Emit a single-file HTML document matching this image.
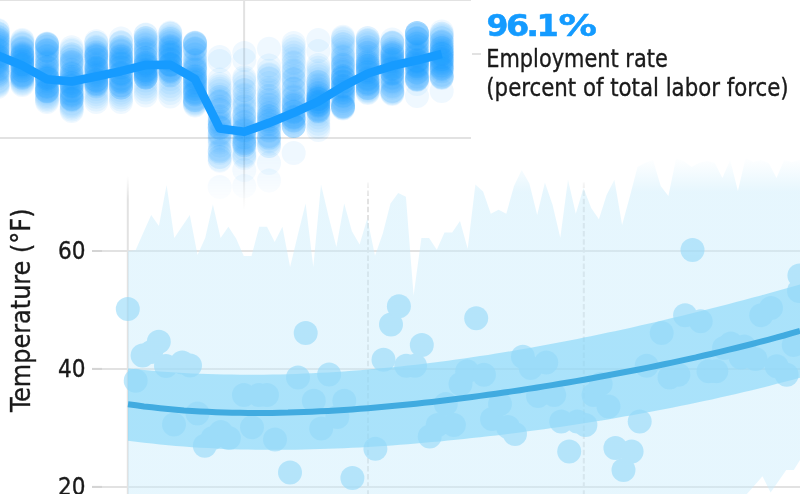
<!DOCTYPE html>
<html><head><meta charset="utf-8"><style>
html,body{margin:0;padding:0;background:#fff;width:800px;height:494px;overflow:hidden}
</style></head><body>
<svg width="800" height="494" viewBox="0 0 800 494" style="position:absolute;left:0;top:0">
<defs>
<linearGradient id="afade" gradientUnits="userSpaceOnUse" x1="0" y1="157" x2="0" y2="192"><stop offset="0" stop-color="#c8ecfc" stop-opacity="0"/><stop offset="1" stop-color="#c8ecfc" stop-opacity="1"/></linearGradient>
<linearGradient id="lfade" gradientUnits="userSpaceOnUse" x1="0" y1="176" x2="0" y2="199"><stop offset="0" stop-color="#fff" stop-opacity="0"/><stop offset="1" stop-color="#fff" stop-opacity="1"/></linearGradient>
<mask id="lm" maskUnits="userSpaceOnUse" x="0" y="0" width="800" height="494"><rect x="0" y="0" width="800" height="494" fill="url(#lfade)"/></mask>
<linearGradient id="tfade" gradientUnits="userSpaceOnUse" x1="0" y1="160" x2="0" y2="210"><stop offset="0" stop-color="#fff" stop-opacity="1"/><stop offset="1" stop-color="#fff" stop-opacity="0"/></linearGradient>
<mask id="tm" maskUnits="userSpaceOnUse" x="-20" y="-20" width="840" height="534"><rect x="-20" y="-20" width="840" height="534" fill="url(#tfade)"/></mask>
</defs>
<line x1="92" y1="251.0" x2="800" y2="251.0" stroke="#e2e2e2" stroke-width="2"/>
<line x1="92" y1="251.0" x2="102" y2="251.0" stroke="#d4d4d4" stroke-width="2"/>
<line x1="92" y1="368.9" x2="800" y2="368.9" stroke="#e2e2e2" stroke-width="2"/>
<line x1="92" y1="368.9" x2="102" y2="368.9" stroke="#d4d4d4" stroke-width="2"/>
<line x1="92" y1="486.9" x2="800" y2="486.9" stroke="#e2e2e2" stroke-width="2"/>
<line x1="92" y1="486.9" x2="102" y2="486.9" stroke="#d4d4d4" stroke-width="2"/>
<g mask="url(#lm)">
<line x1="127.8" y1="150" x2="127.8" y2="494" stroke="#e2e2e2" stroke-width="2"/>
<line x1="368" y1="182.5" x2="368" y2="494" stroke="#e2e2e2" stroke-width="2" stroke-dasharray="5.5 2.6"/>
<line x1="583.8" y1="182.5" x2="583.8" y2="494" stroke="#e2e2e2" stroke-width="2" stroke-dasharray="5.5 2.6"/>
</g>
<polygon points="128,505 128,251 135.7,250 143.4,232.5 151.2,215 158.9,226 166.6,185 174.3,238 182,226.5 189.8,215 197.5,255 205.2,238 212.9,204.5 220.6,238 228.4,226.8 236.1,238.5 243.8,256 251.5,256 259.2,226.8 267,226.8 274.7,242 282.4,226.8 290.1,267 297.8,235 305.6,203.4 313.3,267 321,184.5 328.7,217 336.4,247 344.2,203.4 351.9,231.3 359.6,244.6 367.3,218.4 375,255.8 382.8,233.5 390.5,203.4 398.2,193 405.9,196.8 413.6,295.6 421.4,238 429.1,238 436.8,249.7 444.5,232.5 452.2,232.5 460,221 467.7,248.7 475.4,184.5 483.1,191.5 490.8,213.7 498.6,209.7 506.3,213.7 514,186 521.7,170 529.4,183.4 537.2,215 544.9,182.5 552.6,205 560.3,237.7 568,179.7 575.8,213.7 583.5,188 591.2,208 598.9,219.3 606.6,195 614.4,179.7 622.1,225 629.8,196.7 637.5,167 645.2,162.7 653,160 660.7,186 668.4,196 676.1,158.4 683.8,161 691.6,167 699.3,162.7 707,161 714.7,162.7 722.4,178 730.2,160 737.9,191 745.6,158 753.3,162 761,160 768.8,163 776.5,178 784.2,160 791.9,162 799.6,160 807.4,160 800,460 793.75,470 786.25,470 770.6,492.5 762.5,476.25 746.9,494 740,505" fill="url(#afade)" fill-opacity="0.45"/>
<polygon points="128,368.4 136,369.3 144,370 152,370.7 160,371.4 168,372 176,372.5 184,373 192,373.4 200,373.7 208,374 216,374.3 224,374.5 232,374.6 240,374.7 248,374.7 256,374.7 264,374.7 272,374.5 280,374.4 288,374.2 296,373.9 304,373.6 312,373.2 320,372.8 328,372.4 336,371.9 344,371.4 352,370.8 360,370.2 368,369.5 376,368.8 384,368 392,367.3 400,366.4 408,365.6 416,364.7 424,363.7 432,362.7 440,361.7 448,360.7 456,359.6 464,358.5 472,357.3 480,356.1 488,354.9 496,353.6 504,352.3 512,351 520,349.6 528,348.2 536,346.8 544,345.3 552,343.8 560,342.3 568,340.8 576,339.2 584,337.6 592,336 600,334.3 608,332.6 616,330.9 624,329.2 632,327.4 640,325.6 648,323.8 656,321.9 664,320 672,318.1 680,316.2 688,314.3 696,312.3 704,310.3 712,308.3 720,306.2 728,304.2 736,302.1 744,299.9 752,297.8 760,295.7 768,293.5 776,291.3 784,289 792,286.8 800,284.5 800,377.7 792,379.9 784,382 776,384.1 768,386.2 760,388.2 752,390.2 744,392.1 736,394 728,395.8 720,397.6 712,399.4 704,401.1 696,402.8 688,404.5 680,406.1 672,407.7 664,409.3 656,410.8 648,412.3 640,413.8 632,415.2 624,416.6 616,418 608,419.4 600,420.7 592,422 584,423.3 576,424.5 568,425.7 560,426.9 552,428 544,429.2 536,430.3 528,431.3 520,432.4 512,433.4 504,434.4 496,435.4 488,436.3 480,437.2 472,438.1 464,439 456,439.8 448,440.6 440,441.4 432,442.1 424,442.8 416,443.5 408,444.2 400,444.8 392,445.4 384,445.9 376,446.4 368,446.9 360,447.4 352,447.8 344,448.2 336,448.5 328,448.8 320,449.1 312,449.3 304,449.5 296,449.7 288,449.8 280,449.8 272,449.8 264,449.8 256,449.7 248,449.6 240,449.4 232,449.2 224,448.9 216,448.5 208,448.1 200,447.7 192,447.2 184,446.6 176,445.9 168,445.2 160,444.5 152,443.6 144,442.7 136,441.7 128,440.7" fill="#82d5f9" fill-opacity="0.6"/>
<g fill="#94d9f9" opacity="0.6">
<circle cx="127.8" cy="309" r="12.0"/>
<circle cx="135.7" cy="380.7" r="12.0"/>
<circle cx="142.6" cy="355.5" r="12.0"/>
<circle cx="151.2" cy="352" r="12.0"/>
<circle cx="158.8" cy="341.7" r="12.0"/>
<circle cx="166" cy="365.9" r="12.0"/>
<circle cx="174" cy="424.5" r="12.0"/>
<circle cx="182.2" cy="362.4" r="12.0"/>
<circle cx="190" cy="365.5" r="12.0"/>
<circle cx="197.5" cy="413.5" r="12.0"/>
<circle cx="204.8" cy="445.8" r="12.0"/>
<circle cx="212.7" cy="438" r="12.0"/>
<circle cx="220.8" cy="432" r="12.0"/>
<circle cx="228.9" cy="438" r="12.0"/>
<circle cx="243.9" cy="395" r="12.0"/>
<circle cx="252" cy="427.3" r="12.0"/>
<circle cx="258.9" cy="395" r="12.0"/>
<circle cx="267" cy="395" r="12.0"/>
<circle cx="275" cy="439.4" r="12.0"/>
<circle cx="290" cy="472.4" r="12.0"/>
<circle cx="298" cy="377.5" r="12.0"/>
<circle cx="305.7" cy="333" r="12.0"/>
<circle cx="313.8" cy="400.8" r="12.0"/>
<circle cx="321.2" cy="428.5" r="12.0"/>
<circle cx="329.1" cy="374.6" r="12.0"/>
<circle cx="337.4" cy="417" r="12.0"/>
<circle cx="344.3" cy="400.8" r="12.0"/>
<circle cx="352.4" cy="478" r="12.0"/>
<circle cx="375.4" cy="448.8" r="12.0"/>
<circle cx="383.5" cy="359.7" r="12.0"/>
<circle cx="391" cy="324.5" r="12.0"/>
<circle cx="398.9" cy="306.3" r="12.0"/>
<circle cx="406.2" cy="365.7" r="12.0"/>
<circle cx="415.1" cy="365.7" r="12.0"/>
<circle cx="421.8" cy="345" r="12.0"/>
<circle cx="429.7" cy="436.6" r="12.0"/>
<circle cx="437.7" cy="425" r="12.0"/>
<circle cx="445.8" cy="404" r="12.0"/>
<circle cx="453.9" cy="425" r="12.0"/>
<circle cx="460.5" cy="384" r="12.0"/>
<circle cx="467.2" cy="371.3" r="12.0"/>
<circle cx="476.2" cy="318.3" r="12.0"/>
<circle cx="484" cy="374.7" r="12.0"/>
<circle cx="492" cy="419" r="12.0"/>
<circle cx="500" cy="404" r="12.0"/>
<circle cx="508" cy="427" r="12.0"/>
<circle cx="515" cy="434" r="12.0"/>
<circle cx="522.9" cy="356.8" r="12.0"/>
<circle cx="530.7" cy="368" r="12.0"/>
<circle cx="538" cy="396" r="12.0"/>
<circle cx="546.3" cy="362.4" r="12.0"/>
<circle cx="554.2" cy="395" r="12.0"/>
<circle cx="561.2" cy="421.6" r="12.0"/>
<circle cx="569.2" cy="451.6" r="12.0"/>
<circle cx="577.3" cy="421.6" r="12.0"/>
<circle cx="585.4" cy="425" r="12.0"/>
<circle cx="593.5" cy="395" r="12.0"/>
<circle cx="600.7" cy="384" r="12.0"/>
<circle cx="608.5" cy="406.6" r="12.0"/>
<circle cx="615.4" cy="448" r="12.0"/>
<circle cx="623.5" cy="470" r="12.0"/>
<circle cx="631.6" cy="451.6" r="12.0"/>
<circle cx="639.7" cy="421.6" r="12.0"/>
<circle cx="646.6" cy="365.7" r="12.0"/>
<circle cx="661.7" cy="333" r="12.0"/>
<circle cx="669.5" cy="377.5" r="12.0"/>
<circle cx="678.4" cy="374.7" r="12.0"/>
<circle cx="685.1" cy="315.2" r="12.0"/>
<circle cx="700.7" cy="321.2" r="12.0"/>
<circle cx="708.5" cy="371.3" r="12.0"/>
<circle cx="716.3" cy="371.3" r="12.0"/>
<circle cx="724" cy="348" r="12.0"/>
<circle cx="730.8" cy="343.5" r="12.0"/>
<circle cx="744.2" cy="346.4" r="12.0"/>
<circle cx="755.5" cy="359" r="12.0"/>
<circle cx="761.2" cy="315.2" r="12.0"/>
<circle cx="771" cy="308" r="12.0"/>
<circle cx="776.7" cy="366.2" r="12.0"/>
<circle cx="786.7" cy="374.7" r="12.0"/>
<circle cx="793.7" cy="345" r="12.0"/>
<circle cx="799" cy="291" r="12.0"/>
<circle cx="799.4" cy="275.6" r="12.0"/>
<circle cx="740.7" cy="357.6" r="12.0"/>
<circle cx="692.5" cy="250" r="12.0"/>
</g>
<polyline points="128,404.2 136,405.3 144,406.4 152,407.3 160,408.2 168,409 176,409.7 184,410.4 192,410.9 200,411.4 208,411.8 216,412.2 224,412.5 232,412.7 240,412.8 248,412.9 256,413 264,412.9 272,412.9 280,412.7 288,412.6 296,412.3 304,412 312,411.7 320,411.3 328,410.9 336,410.4 344,409.9 352,409.4 360,408.8 368,408.2 376,407.5 384,406.8 392,406.1 400,405.3 408,404.5 416,403.7 424,402.8 432,401.9 440,401 448,400 456,399 464,398 472,397 480,395.9 488,394.8 496,393.7 504,392.5 512,391.4 520,390.2 528,388.9 536,387.7 544,386.4 552,385.1 560,383.8 568,382.5 576,381.1 584,379.7 592,378.3 600,376.8 608,375.3 616,373.8 624,372.3 632,370.8 640,369.2 648,367.6 656,366 664,364.3 672,362.6 680,360.9 688,359.1 696,357.4 704,355.5 712,353.7 720,351.8 728,349.9 736,348 744,346 752,344 760,341.9 768,339.8 776,337.6 784,335.5 792,333.2 800,331" fill="none" stroke="#41abe0" stroke-width="6"/>
<line x1="0" y1="0" x2="471" y2="0" stroke="#e2e2e2" stroke-width="2"/>
<line x1="0" y1="138" x2="471" y2="138" stroke="#e2e2e2" stroke-width="2"/>
<g mask="url(#tm)">
<line x1="244.1" y1="0" x2="244.1" y2="215" stroke="#e2e2e2" stroke-width="2"/>
<g fill="#1c9bff" fill-opacity="0.07">
<circle cx="-2.3" cy="30" r="12"/>
<circle cx="-2.3" cy="30.7" r="12"/>
<circle cx="-2.3" cy="34.1" r="12"/>
<circle cx="-2.3" cy="33.2" r="12"/>
<circle cx="-2.3" cy="36.4" r="12"/>
<circle cx="-2.3" cy="37.1" r="12"/>
<circle cx="-2.3" cy="37.3" r="12"/>
<circle cx="-2.3" cy="40.4" r="12"/>
<circle cx="-2.3" cy="40" r="12"/>
<circle cx="-2.3" cy="42.9" r="12"/>
<circle cx="-2.3" cy="42.9" r="12"/>
<circle cx="-2.3" cy="44.3" r="12"/>
<circle cx="-2.3" cy="47.1" r="12"/>
<circle cx="-2.3" cy="50.1" r="12"/>
<circle cx="-2.3" cy="48.6" r="12"/>
<circle cx="-2.3" cy="50.4" r="12"/>
<circle cx="-2.3" cy="53.4" r="12"/>
<circle cx="-2.3" cy="56.1" r="12"/>
<circle cx="-2.3" cy="56" r="12"/>
<circle cx="-2.3" cy="56.7" r="12"/>
<circle cx="-2.3" cy="60.4" r="12"/>
<circle cx="-2.3" cy="58" r="12"/>
<circle cx="-2.3" cy="62.7" r="12"/>
<circle cx="-2.3" cy="61.8" r="12"/>
<circle cx="-2.3" cy="62.6" r="12"/>
<circle cx="-2.3" cy="63.9" r="12"/>
<circle cx="-2.3" cy="66" r="12"/>
<circle cx="-2.3" cy="69.5" r="12"/>
<circle cx="-2.3" cy="68.3" r="12"/>
<circle cx="-2.3" cy="71.3" r="12"/>
<circle cx="-2.3" cy="72.9" r="12"/>
<circle cx="-2.3" cy="73.2" r="12"/>
<circle cx="-2.3" cy="75.3" r="12"/>
<circle cx="-2.3" cy="74.8" r="12"/>
<circle cx="-2.3" cy="76.2" r="12"/>
<circle cx="-2.3" cy="78.1" r="12"/>
<circle cx="-2.3" cy="50.6" r="12"/>
<circle cx="-2.3" cy="45" r="12"/>
<circle cx="-2.3" cy="49.8" r="12"/>
<circle cx="-2.3" cy="68.9" r="12"/>
<circle cx="-2.3" cy="46.6" r="12"/>
<circle cx="-2.3" cy="58.2" r="12"/>
<circle cx="-2.3" cy="60.2" r="12"/>
<circle cx="-2.3" cy="39.1" r="12"/>
<circle cx="-2.3" cy="56" r="12"/>
<circle cx="-2.3" cy="69.9" r="12"/>
<circle cx="-2.3" cy="33.3" r="12"/>
<circle cx="-2.3" cy="52" r="12"/>
<circle cx="-2.3" cy="54.3" r="12"/>
<circle cx="-2.3" cy="46.5" r="12"/>
<circle cx="-2.3" cy="61" r="12"/>
<circle cx="-2.3" cy="54.8" r="12"/>
<circle cx="-2.3" cy="39.4" r="12"/>
<circle cx="-2.3" cy="64.6" r="12"/>
<circle cx="-2.3" cy="62.9" r="12"/>
<circle cx="-2.3" cy="65.9" r="12"/>
<circle cx="-2.3" cy="71.3" r="12"/>
<circle cx="-2.3" cy="59.5" r="12"/>
<circle cx="-2.3" cy="56.8" r="12"/>
<circle cx="-2.3" cy="41.2" r="12"/>
<circle cx="-2.3" cy="87" r="12"/>
<circle cx="-2.3" cy="85.8" r="12"/>
<circle cx="-2.3" cy="84.7" r="12"/>
<circle cx="-2.3" cy="83.5" r="12"/>
<circle cx="-2.3" cy="82.3" r="12"/>
<circle cx="-2.3" cy="81.2" r="12"/>
<circle cx="22.3" cy="41" r="12"/>
<circle cx="22.3" cy="39.9" r="12"/>
<circle cx="22.3" cy="42.5" r="12"/>
<circle cx="22.3" cy="43.2" r="12"/>
<circle cx="22.3" cy="44.2" r="12"/>
<circle cx="22.3" cy="44.8" r="12"/>
<circle cx="22.3" cy="47.4" r="12"/>
<circle cx="22.3" cy="48.9" r="12"/>
<circle cx="22.3" cy="48.1" r="12"/>
<circle cx="22.3" cy="49.9" r="12"/>
<circle cx="22.3" cy="48.6" r="12"/>
<circle cx="22.3" cy="52.3" r="12"/>
<circle cx="22.3" cy="53.1" r="12"/>
<circle cx="22.3" cy="55.6" r="12"/>
<circle cx="22.3" cy="56" r="12"/>
<circle cx="22.3" cy="54.9" r="12"/>
<circle cx="22.3" cy="56.4" r="12"/>
<circle cx="22.3" cy="58.6" r="12"/>
<circle cx="22.3" cy="57.1" r="12"/>
<circle cx="22.3" cy="60" r="12"/>
<circle cx="22.3" cy="59.9" r="12"/>
<circle cx="22.3" cy="60.8" r="12"/>
<circle cx="22.3" cy="61.6" r="12"/>
<circle cx="22.3" cy="65.5" r="12"/>
<circle cx="22.3" cy="64.1" r="12"/>
<circle cx="22.3" cy="65.6" r="12"/>
<circle cx="22.3" cy="67.3" r="12"/>
<circle cx="22.3" cy="70.3" r="12"/>
<circle cx="22.3" cy="68.2" r="12"/>
<circle cx="22.3" cy="70.8" r="12"/>
<circle cx="22.3" cy="72.2" r="12"/>
<circle cx="22.3" cy="74.7" r="12"/>
<circle cx="22.3" cy="75.5" r="12"/>
<circle cx="22.3" cy="76.7" r="12"/>
<circle cx="22.3" cy="75.5" r="12"/>
<circle cx="22.3" cy="77.1" r="12"/>
<circle cx="22.3" cy="54.3" r="12"/>
<circle cx="22.3" cy="78" r="12"/>
<circle cx="22.3" cy="70.2" r="12"/>
<circle cx="22.3" cy="64.2" r="12"/>
<circle cx="22.3" cy="68.3" r="12"/>
<circle cx="22.3" cy="71.1" r="12"/>
<circle cx="22.3" cy="66.5" r="12"/>
<circle cx="22.3" cy="75.3" r="12"/>
<circle cx="22.3" cy="59.8" r="12"/>
<circle cx="22.3" cy="61.9" r="12"/>
<circle cx="22.3" cy="74.4" r="12"/>
<circle cx="22.3" cy="65.7" r="12"/>
<circle cx="22.3" cy="57.9" r="12"/>
<circle cx="22.3" cy="73.6" r="12"/>
<circle cx="22.3" cy="78" r="12"/>
<circle cx="22.3" cy="61.7" r="12"/>
<circle cx="22.3" cy="53.7" r="12"/>
<circle cx="22.3" cy="64.3" r="12"/>
<circle cx="22.3" cy="64.2" r="12"/>
<circle cx="22.3" cy="62.9" r="12"/>
<circle cx="22.3" cy="77.6" r="12"/>
<circle cx="22.3" cy="56.7" r="12"/>
<circle cx="22.3" cy="76.3" r="12"/>
<circle cx="22.3" cy="54.6" r="12"/>
<circle cx="22.3" cy="85" r="12"/>
<circle cx="22.3" cy="83.8" r="12"/>
<circle cx="22.3" cy="82.7" r="12"/>
<circle cx="22.3" cy="81.5" r="12"/>
<circle cx="22.3" cy="80.3" r="12"/>
<circle cx="22.3" cy="79.2" r="12"/>
<circle cx="47" cy="45.2" r="12"/>
<circle cx="47" cy="46.6" r="12"/>
<circle cx="47" cy="46.7" r="12"/>
<circle cx="47" cy="50.2" r="12"/>
<circle cx="47" cy="49.2" r="12"/>
<circle cx="47" cy="50.6" r="12"/>
<circle cx="47" cy="52.5" r="12"/>
<circle cx="47" cy="53.6" r="12"/>
<circle cx="47" cy="55.7" r="12"/>
<circle cx="47" cy="55.9" r="12"/>
<circle cx="47" cy="57" r="12"/>
<circle cx="47" cy="58.9" r="12"/>
<circle cx="47" cy="60.1" r="12"/>
<circle cx="47" cy="62.5" r="12"/>
<circle cx="47" cy="62.4" r="12"/>
<circle cx="47" cy="67.2" r="12"/>
<circle cx="47" cy="67.5" r="12"/>
<circle cx="47" cy="66.9" r="12"/>
<circle cx="47" cy="68.7" r="12"/>
<circle cx="47" cy="70.4" r="12"/>
<circle cx="47" cy="71.8" r="12"/>
<circle cx="47" cy="72.2" r="12"/>
<circle cx="47" cy="76.4" r="12"/>
<circle cx="47" cy="78.3" r="12"/>
<circle cx="47" cy="77.5" r="12"/>
<circle cx="47" cy="78.9" r="12"/>
<circle cx="47" cy="78.7" r="12"/>
<circle cx="47" cy="80.1" r="12"/>
<circle cx="47" cy="82.4" r="12"/>
<circle cx="47" cy="83.4" r="12"/>
<circle cx="47" cy="87" r="12"/>
<circle cx="47" cy="85.6" r="12"/>
<circle cx="47" cy="86.4" r="12"/>
<circle cx="47" cy="91.5" r="12"/>
<circle cx="47" cy="91.1" r="12"/>
<circle cx="47" cy="90.9" r="12"/>
<circle cx="47" cy="76.8" r="12"/>
<circle cx="47" cy="78.5" r="12"/>
<circle cx="47" cy="50.4" r="12"/>
<circle cx="47" cy="74.1" r="12"/>
<circle cx="47" cy="89.9" r="12"/>
<circle cx="47" cy="66.9" r="12"/>
<circle cx="47" cy="78.5" r="12"/>
<circle cx="47" cy="89.3" r="12"/>
<circle cx="47" cy="88.2" r="12"/>
<circle cx="47" cy="93" r="12"/>
<circle cx="47" cy="61.2" r="12"/>
<circle cx="47" cy="75.5" r="12"/>
<circle cx="47" cy="75.6" r="12"/>
<circle cx="47" cy="85.8" r="12"/>
<circle cx="47" cy="90.7" r="12"/>
<circle cx="47" cy="50.9" r="12"/>
<circle cx="47" cy="90.7" r="12"/>
<circle cx="47" cy="63.9" r="12"/>
<circle cx="47" cy="86.4" r="12"/>
<circle cx="47" cy="63.4" r="12"/>
<circle cx="47" cy="81.1" r="12"/>
<circle cx="47" cy="91.8" r="12"/>
<circle cx="47" cy="77.6" r="12"/>
<circle cx="47" cy="81.2" r="12"/>
<circle cx="47" cy="43.4" r="12"/>
<circle cx="47" cy="43.7" r="12"/>
<circle cx="47" cy="43.9" r="12"/>
<circle cx="47" cy="44.2" r="12"/>
<circle cx="47" cy="44.5" r="12"/>
<circle cx="47" cy="44.7" r="12"/>
<circle cx="47" cy="102" r="12"/>
<circle cx="47" cy="100.5" r="12"/>
<circle cx="47" cy="99" r="12"/>
<circle cx="47" cy="97.5" r="12"/>
<circle cx="47" cy="96" r="12"/>
<circle cx="47" cy="94.5" r="12"/>
<circle cx="71.7" cy="47.2" r="12"/>
<circle cx="71.7" cy="49.6" r="12"/>
<circle cx="71.7" cy="51" r="12"/>
<circle cx="71.7" cy="54.3" r="12"/>
<circle cx="71.7" cy="56.8" r="12"/>
<circle cx="71.7" cy="56.2" r="12"/>
<circle cx="71.7" cy="59.7" r="12"/>
<circle cx="71.7" cy="61.4" r="12"/>
<circle cx="71.7" cy="62.7" r="12"/>
<circle cx="71.7" cy="61.9" r="12"/>
<circle cx="71.7" cy="62.8" r="12"/>
<circle cx="71.7" cy="64.3" r="12"/>
<circle cx="71.7" cy="65.6" r="12"/>
<circle cx="71.7" cy="67.1" r="12"/>
<circle cx="71.7" cy="70.3" r="12"/>
<circle cx="71.7" cy="72.9" r="12"/>
<circle cx="71.7" cy="74.1" r="12"/>
<circle cx="71.7" cy="74.2" r="12"/>
<circle cx="71.7" cy="76.4" r="12"/>
<circle cx="71.7" cy="78.4" r="12"/>
<circle cx="71.7" cy="77" r="12"/>
<circle cx="71.7" cy="80.8" r="12"/>
<circle cx="71.7" cy="83.3" r="12"/>
<circle cx="71.7" cy="84.3" r="12"/>
<circle cx="71.7" cy="85.6" r="12"/>
<circle cx="71.7" cy="86" r="12"/>
<circle cx="71.7" cy="86.3" r="12"/>
<circle cx="71.7" cy="90.2" r="12"/>
<circle cx="71.7" cy="89.9" r="12"/>
<circle cx="71.7" cy="93.3" r="12"/>
<circle cx="71.7" cy="95.4" r="12"/>
<circle cx="71.7" cy="94.6" r="12"/>
<circle cx="71.7" cy="96.1" r="12"/>
<circle cx="71.7" cy="99.8" r="12"/>
<circle cx="71.7" cy="100.4" r="12"/>
<circle cx="71.7" cy="99.6" r="12"/>
<circle cx="71.7" cy="86.2" r="12"/>
<circle cx="71.7" cy="86.3" r="12"/>
<circle cx="71.7" cy="99.1" r="12"/>
<circle cx="71.7" cy="69.5" r="12"/>
<circle cx="71.7" cy="94.8" r="12"/>
<circle cx="71.7" cy="99" r="12"/>
<circle cx="71.7" cy="98.6" r="12"/>
<circle cx="71.7" cy="79.4" r="12"/>
<circle cx="71.7" cy="72.8" r="12"/>
<circle cx="71.7" cy="93.5" r="12"/>
<circle cx="71.7" cy="82.9" r="12"/>
<circle cx="71.7" cy="83" r="12"/>
<circle cx="71.7" cy="98.2" r="12"/>
<circle cx="71.7" cy="78.4" r="12"/>
<circle cx="71.7" cy="54.5" r="12"/>
<circle cx="71.7" cy="77" r="12"/>
<circle cx="71.7" cy="59.7" r="12"/>
<circle cx="71.7" cy="91.1" r="12"/>
<circle cx="71.7" cy="85.2" r="12"/>
<circle cx="71.7" cy="74.3" r="12"/>
<circle cx="71.7" cy="81.4" r="12"/>
<circle cx="71.7" cy="91.3" r="12"/>
<circle cx="71.7" cy="82.4" r="12"/>
<circle cx="71.7" cy="97.1" r="12"/>
<circle cx="71.7" cy="110.9" r="12"/>
<circle cx="71.7" cy="109.4" r="12"/>
<circle cx="71.7" cy="107.8" r="12"/>
<circle cx="71.7" cy="106.3" r="12"/>
<circle cx="71.7" cy="104.8" r="12"/>
<circle cx="71.7" cy="103.2" r="12"/>
<circle cx="96.3" cy="41.2" r="12"/>
<circle cx="96.3" cy="43.1" r="12"/>
<circle cx="96.3" cy="43.1" r="12"/>
<circle cx="96.3" cy="47.5" r="12"/>
<circle cx="96.3" cy="46.5" r="12"/>
<circle cx="96.3" cy="48.2" r="12"/>
<circle cx="96.3" cy="50" r="12"/>
<circle cx="96.3" cy="52.5" r="12"/>
<circle cx="96.3" cy="51.8" r="12"/>
<circle cx="96.3" cy="55" r="12"/>
<circle cx="96.3" cy="54.6" r="12"/>
<circle cx="96.3" cy="56" r="12"/>
<circle cx="96.3" cy="57.2" r="12"/>
<circle cx="96.3" cy="56.4" r="12"/>
<circle cx="96.3" cy="59.4" r="12"/>
<circle cx="96.3" cy="59.6" r="12"/>
<circle cx="96.3" cy="60.1" r="12"/>
<circle cx="96.3" cy="64.6" r="12"/>
<circle cx="96.3" cy="63.3" r="12"/>
<circle cx="96.3" cy="65.8" r="12"/>
<circle cx="96.3" cy="68" r="12"/>
<circle cx="96.3" cy="68.6" r="12"/>
<circle cx="96.3" cy="68.9" r="12"/>
<circle cx="96.3" cy="70.9" r="12"/>
<circle cx="96.3" cy="72.3" r="12"/>
<circle cx="96.3" cy="74.5" r="12"/>
<circle cx="96.3" cy="73" r="12"/>
<circle cx="96.3" cy="76.1" r="12"/>
<circle cx="96.3" cy="76.1" r="12"/>
<circle cx="96.3" cy="77.5" r="12"/>
<circle cx="96.3" cy="80.7" r="12"/>
<circle cx="96.3" cy="80.9" r="12"/>
<circle cx="96.3" cy="82.4" r="12"/>
<circle cx="96.3" cy="84.4" r="12"/>
<circle cx="96.3" cy="86.3" r="12"/>
<circle cx="96.3" cy="85.6" r="12"/>
<circle cx="96.3" cy="67.6" r="12"/>
<circle cx="96.3" cy="68.9" r="12"/>
<circle cx="96.3" cy="61.3" r="12"/>
<circle cx="96.3" cy="75.3" r="12"/>
<circle cx="96.3" cy="64.8" r="12"/>
<circle cx="96.3" cy="80.1" r="12"/>
<circle cx="96.3" cy="53.1" r="12"/>
<circle cx="96.3" cy="79.7" r="12"/>
<circle cx="96.3" cy="70.1" r="12"/>
<circle cx="96.3" cy="57.3" r="12"/>
<circle cx="96.3" cy="83.7" r="12"/>
<circle cx="96.3" cy="73.8" r="12"/>
<circle cx="96.3" cy="54.4" r="12"/>
<circle cx="96.3" cy="67.8" r="12"/>
<circle cx="96.3" cy="79.4" r="12"/>
<circle cx="96.3" cy="72" r="12"/>
<circle cx="96.3" cy="84.2" r="12"/>
<circle cx="96.3" cy="83.9" r="12"/>
<circle cx="96.3" cy="83.1" r="12"/>
<circle cx="96.3" cy="79.7" r="12"/>
<circle cx="96.3" cy="86.5" r="12"/>
<circle cx="96.3" cy="83" r="12"/>
<circle cx="96.3" cy="81" r="12"/>
<circle cx="96.3" cy="55.9" r="12"/>
<circle cx="96.3" cy="102" r="12"/>
<circle cx="96.3" cy="99.4" r="12"/>
<circle cx="96.3" cy="96.8" r="12"/>
<circle cx="96.3" cy="94.2" r="12"/>
<circle cx="96.3" cy="91.7" r="12"/>
<circle cx="96.3" cy="89.1" r="12"/>
<circle cx="121" cy="38.6" r="12"/>
<circle cx="121" cy="42.2" r="12"/>
<circle cx="121" cy="43.3" r="12"/>
<circle cx="121" cy="42.6" r="12"/>
<circle cx="121" cy="46.9" r="12"/>
<circle cx="121" cy="48.5" r="12"/>
<circle cx="121" cy="46.9" r="12"/>
<circle cx="121" cy="51.2" r="12"/>
<circle cx="121" cy="50.3" r="12"/>
<circle cx="121" cy="52" r="12"/>
<circle cx="121" cy="55.3" r="12"/>
<circle cx="121" cy="56.1" r="12"/>
<circle cx="121" cy="54.7" r="12"/>
<circle cx="121" cy="57.1" r="12"/>
<circle cx="121" cy="58.8" r="12"/>
<circle cx="121" cy="59.5" r="12"/>
<circle cx="121" cy="60.2" r="12"/>
<circle cx="121" cy="62.1" r="12"/>
<circle cx="121" cy="65" r="12"/>
<circle cx="121" cy="63.5" r="12"/>
<circle cx="121" cy="67" r="12"/>
<circle cx="121" cy="67.9" r="12"/>
<circle cx="121" cy="67.6" r="12"/>
<circle cx="121" cy="70.2" r="12"/>
<circle cx="121" cy="72.7" r="12"/>
<circle cx="121" cy="73.6" r="12"/>
<circle cx="121" cy="73.1" r="12"/>
<circle cx="121" cy="78.1" r="12"/>
<circle cx="121" cy="78.7" r="12"/>
<circle cx="121" cy="80.8" r="12"/>
<circle cx="121" cy="78.6" r="12"/>
<circle cx="121" cy="80.6" r="12"/>
<circle cx="121" cy="81.1" r="12"/>
<circle cx="121" cy="85.4" r="12"/>
<circle cx="121" cy="84.7" r="12"/>
<circle cx="121" cy="85.4" r="12"/>
<circle cx="121" cy="50.5" r="12"/>
<circle cx="121" cy="82.2" r="12"/>
<circle cx="121" cy="74.7" r="12"/>
<circle cx="121" cy="63.7" r="12"/>
<circle cx="121" cy="85.3" r="12"/>
<circle cx="121" cy="87.6" r="12"/>
<circle cx="121" cy="56.3" r="12"/>
<circle cx="121" cy="64.1" r="12"/>
<circle cx="121" cy="74.3" r="12"/>
<circle cx="121" cy="73.1" r="12"/>
<circle cx="121" cy="67" r="12"/>
<circle cx="121" cy="60.8" r="12"/>
<circle cx="121" cy="87.6" r="12"/>
<circle cx="121" cy="82.2" r="12"/>
<circle cx="121" cy="58.5" r="12"/>
<circle cx="121" cy="56.9" r="12"/>
<circle cx="121" cy="87.6" r="12"/>
<circle cx="121" cy="81.7" r="12"/>
<circle cx="121" cy="87.6" r="12"/>
<circle cx="121" cy="79.8" r="12"/>
<circle cx="121" cy="61.9" r="12"/>
<circle cx="121" cy="74" r="12"/>
<circle cx="121" cy="48.2" r="12"/>
<circle cx="121" cy="63.3" r="12"/>
<circle cx="121" cy="102" r="12"/>
<circle cx="121" cy="99.6" r="12"/>
<circle cx="121" cy="97.2" r="12"/>
<circle cx="121" cy="94.8" r="12"/>
<circle cx="121" cy="92.4" r="12"/>
<circle cx="121" cy="90" r="12"/>
<circle cx="145.7" cy="34.5" r="12"/>
<circle cx="145.7" cy="35.1" r="12"/>
<circle cx="145.7" cy="37.9" r="12"/>
<circle cx="145.7" cy="37.9" r="12"/>
<circle cx="145.7" cy="38.6" r="12"/>
<circle cx="145.7" cy="40" r="12"/>
<circle cx="145.7" cy="40.7" r="12"/>
<circle cx="145.7" cy="42.5" r="12"/>
<circle cx="145.7" cy="44.2" r="12"/>
<circle cx="145.7" cy="45.3" r="12"/>
<circle cx="145.7" cy="48.3" r="12"/>
<circle cx="145.7" cy="47.6" r="12"/>
<circle cx="145.7" cy="49.7" r="12"/>
<circle cx="145.7" cy="49.6" r="12"/>
<circle cx="145.7" cy="51.4" r="12"/>
<circle cx="145.7" cy="51.3" r="12"/>
<circle cx="145.7" cy="53.4" r="12"/>
<circle cx="145.7" cy="53.7" r="12"/>
<circle cx="145.7" cy="57.7" r="12"/>
<circle cx="145.7" cy="58.2" r="12"/>
<circle cx="145.7" cy="57.9" r="12"/>
<circle cx="145.7" cy="60.3" r="12"/>
<circle cx="145.7" cy="63.3" r="12"/>
<circle cx="145.7" cy="61.2" r="12"/>
<circle cx="145.7" cy="65.2" r="12"/>
<circle cx="145.7" cy="64.8" r="12"/>
<circle cx="145.7" cy="66.3" r="12"/>
<circle cx="145.7" cy="68.8" r="12"/>
<circle cx="145.7" cy="68.3" r="12"/>
<circle cx="145.7" cy="69.9" r="12"/>
<circle cx="145.7" cy="71.8" r="12"/>
<circle cx="145.7" cy="74.2" r="12"/>
<circle cx="145.7" cy="72.8" r="12"/>
<circle cx="145.7" cy="76" r="12"/>
<circle cx="145.7" cy="76.6" r="12"/>
<circle cx="145.7" cy="77.5" r="12"/>
<circle cx="145.7" cy="57.8" r="12"/>
<circle cx="145.7" cy="69.9" r="12"/>
<circle cx="145.7" cy="69.7" r="12"/>
<circle cx="145.7" cy="66.7" r="12"/>
<circle cx="145.7" cy="77.6" r="12"/>
<circle cx="145.7" cy="71.7" r="12"/>
<circle cx="145.7" cy="64.8" r="12"/>
<circle cx="145.7" cy="70.6" r="12"/>
<circle cx="145.7" cy="77.6" r="12"/>
<circle cx="145.7" cy="74.1" r="12"/>
<circle cx="145.7" cy="74.6" r="12"/>
<circle cx="145.7" cy="54.8" r="12"/>
<circle cx="145.7" cy="63.6" r="12"/>
<circle cx="145.7" cy="71.9" r="12"/>
<circle cx="145.7" cy="62.2" r="12"/>
<circle cx="145.7" cy="75.1" r="12"/>
<circle cx="145.7" cy="70.6" r="12"/>
<circle cx="145.7" cy="73.6" r="12"/>
<circle cx="145.7" cy="63" r="12"/>
<circle cx="145.7" cy="77.6" r="12"/>
<circle cx="145.7" cy="76.7" r="12"/>
<circle cx="145.7" cy="63" r="12"/>
<circle cx="145.7" cy="65.9" r="12"/>
<circle cx="145.7" cy="77.6" r="12"/>
<circle cx="145.7" cy="95.4" r="12"/>
<circle cx="145.7" cy="92.4" r="12"/>
<circle cx="145.7" cy="89.5" r="12"/>
<circle cx="145.7" cy="86.5" r="12"/>
<circle cx="145.7" cy="83.5" r="12"/>
<circle cx="145.7" cy="80.6" r="12"/>
<circle cx="170.3" cy="32.4" r="12"/>
<circle cx="170.3" cy="33.8" r="12"/>
<circle cx="170.3" cy="33.6" r="12"/>
<circle cx="170.3" cy="36.3" r="12"/>
<circle cx="170.3" cy="37.8" r="12"/>
<circle cx="170.3" cy="39.1" r="12"/>
<circle cx="170.3" cy="39.1" r="12"/>
<circle cx="170.3" cy="41.5" r="12"/>
<circle cx="170.3" cy="40.7" r="12"/>
<circle cx="170.3" cy="43" r="12"/>
<circle cx="170.3" cy="43.4" r="12"/>
<circle cx="170.3" cy="45.9" r="12"/>
<circle cx="170.3" cy="45.6" r="12"/>
<circle cx="170.3" cy="46.7" r="12"/>
<circle cx="170.3" cy="49.1" r="12"/>
<circle cx="170.3" cy="50" r="12"/>
<circle cx="170.3" cy="52.6" r="12"/>
<circle cx="170.3" cy="53.5" r="12"/>
<circle cx="170.3" cy="55.6" r="12"/>
<circle cx="170.3" cy="56.4" r="12"/>
<circle cx="170.3" cy="57.8" r="12"/>
<circle cx="170.3" cy="59.7" r="12"/>
<circle cx="170.3" cy="58.9" r="12"/>
<circle cx="170.3" cy="59.8" r="12"/>
<circle cx="170.3" cy="63.7" r="12"/>
<circle cx="170.3" cy="61.5" r="12"/>
<circle cx="170.3" cy="65" r="12"/>
<circle cx="170.3" cy="65.9" r="12"/>
<circle cx="170.3" cy="64.7" r="12"/>
<circle cx="170.3" cy="69" r="12"/>
<circle cx="170.3" cy="70.4" r="12"/>
<circle cx="170.3" cy="70.6" r="12"/>
<circle cx="170.3" cy="72.2" r="12"/>
<circle cx="170.3" cy="73.7" r="12"/>
<circle cx="170.3" cy="72.2" r="12"/>
<circle cx="170.3" cy="74.9" r="12"/>
<circle cx="170.3" cy="46.8" r="12"/>
<circle cx="170.3" cy="64.2" r="12"/>
<circle cx="170.3" cy="70.6" r="12"/>
<circle cx="170.3" cy="48.1" r="12"/>
<circle cx="170.3" cy="47.5" r="12"/>
<circle cx="170.3" cy="54.7" r="12"/>
<circle cx="170.3" cy="58.8" r="12"/>
<circle cx="170.3" cy="51.5" r="12"/>
<circle cx="170.3" cy="65" r="12"/>
<circle cx="170.3" cy="67.1" r="12"/>
<circle cx="170.3" cy="70.7" r="12"/>
<circle cx="170.3" cy="71.3" r="12"/>
<circle cx="170.3" cy="75.4" r="12"/>
<circle cx="170.3" cy="75.4" r="12"/>
<circle cx="170.3" cy="52.3" r="12"/>
<circle cx="170.3" cy="59.9" r="12"/>
<circle cx="170.3" cy="54.7" r="12"/>
<circle cx="170.3" cy="54.6" r="12"/>
<circle cx="170.3" cy="63.9" r="12"/>
<circle cx="170.3" cy="64.8" r="12"/>
<circle cx="170.3" cy="69.3" r="12"/>
<circle cx="170.3" cy="49.8" r="12"/>
<circle cx="170.3" cy="53" r="12"/>
<circle cx="170.3" cy="64.5" r="12"/>
<circle cx="170.3" cy="96.5" r="12"/>
<circle cx="170.3" cy="93" r="12"/>
<circle cx="170.3" cy="89.5" r="12"/>
<circle cx="170.3" cy="86" r="12"/>
<circle cx="170.3" cy="82.4" r="12"/>
<circle cx="170.3" cy="78.9" r="12"/>
<circle cx="195" cy="45.1" r="12"/>
<circle cx="195" cy="44.3" r="12"/>
<circle cx="195" cy="48.5" r="12"/>
<circle cx="195" cy="48.2" r="12"/>
<circle cx="195" cy="49" r="12"/>
<circle cx="195" cy="51.3" r="12"/>
<circle cx="195" cy="54.8" r="12"/>
<circle cx="195" cy="54.2" r="12"/>
<circle cx="195" cy="57.9" r="12"/>
<circle cx="195" cy="60.4" r="12"/>
<circle cx="195" cy="60.1" r="12"/>
<circle cx="195" cy="61.2" r="12"/>
<circle cx="195" cy="63.1" r="12"/>
<circle cx="195" cy="65.5" r="12"/>
<circle cx="195" cy="67.4" r="12"/>
<circle cx="195" cy="68.4" r="12"/>
<circle cx="195" cy="70" r="12"/>
<circle cx="195" cy="69.3" r="12"/>
<circle cx="195" cy="71.2" r="12"/>
<circle cx="195" cy="73.2" r="12"/>
<circle cx="195" cy="76.7" r="12"/>
<circle cx="195" cy="76.5" r="12"/>
<circle cx="195" cy="79.1" r="12"/>
<circle cx="195" cy="78.4" r="12"/>
<circle cx="195" cy="80.2" r="12"/>
<circle cx="195" cy="82.6" r="12"/>
<circle cx="195" cy="85.8" r="12"/>
<circle cx="195" cy="87.4" r="12"/>
<circle cx="195" cy="88.9" r="12"/>
<circle cx="195" cy="88.9" r="12"/>
<circle cx="195" cy="91.4" r="12"/>
<circle cx="195" cy="92.7" r="12"/>
<circle cx="195" cy="94.3" r="12"/>
<circle cx="195" cy="94.5" r="12"/>
<circle cx="195" cy="99.1" r="12"/>
<circle cx="195" cy="97.9" r="12"/>
<circle cx="195" cy="99.9" r="12"/>
<circle cx="195" cy="75" r="12"/>
<circle cx="195" cy="92.6" r="12"/>
<circle cx="195" cy="80.5" r="12"/>
<circle cx="195" cy="92.8" r="12"/>
<circle cx="195" cy="49.6" r="12"/>
<circle cx="195" cy="69.7" r="12"/>
<circle cx="195" cy="82.1" r="12"/>
<circle cx="195" cy="86.4" r="12"/>
<circle cx="195" cy="99.9" r="12"/>
<circle cx="195" cy="83" r="12"/>
<circle cx="195" cy="94.8" r="12"/>
<circle cx="195" cy="88.5" r="12"/>
<circle cx="195" cy="90.7" r="12"/>
<circle cx="195" cy="85.3" r="12"/>
<circle cx="195" cy="77.1" r="12"/>
<circle cx="195" cy="85.3" r="12"/>
<circle cx="195" cy="65.7" r="12"/>
<circle cx="195" cy="93.6" r="12"/>
<circle cx="195" cy="66.4" r="12"/>
<circle cx="195" cy="82.1" r="12"/>
<circle cx="195" cy="99.9" r="12"/>
<circle cx="195" cy="76.2" r="12"/>
<circle cx="195" cy="79.2" r="12"/>
<circle cx="195" cy="42.6" r="12"/>
<circle cx="195" cy="42.8" r="12"/>
<circle cx="195" cy="43" r="12"/>
<circle cx="195" cy="43.2" r="12"/>
<circle cx="195" cy="43.3" r="12"/>
<circle cx="195" cy="43.5" r="12"/>
<circle cx="195" cy="105.5" r="12"/>
<circle cx="195" cy="104.6" r="12"/>
<circle cx="195" cy="103.6" r="12"/>
<circle cx="195" cy="102.7" r="12"/>
<circle cx="195" cy="101.8" r="12"/>
<circle cx="195" cy="100.8" r="12"/>
<circle cx="219.7" cy="79.4" r="12"/>
<circle cx="219.7" cy="84.1" r="12"/>
<circle cx="219.7" cy="86.6" r="12"/>
<circle cx="219.7" cy="88.8" r="12"/>
<circle cx="219.7" cy="90.9" r="12"/>
<circle cx="219.7" cy="94.4" r="12"/>
<circle cx="219.7" cy="97" r="12"/>
<circle cx="219.7" cy="101.9" r="12"/>
<circle cx="219.7" cy="101.2" r="12"/>
<circle cx="219.7" cy="107" r="12"/>
<circle cx="219.7" cy="110.1" r="12"/>
<circle cx="219.7" cy="109.9" r="12"/>
<circle cx="219.7" cy="115.9" r="12"/>
<circle cx="219.7" cy="117.8" r="12"/>
<circle cx="219.7" cy="121.2" r="12"/>
<circle cx="219.7" cy="121.5" r="12"/>
<circle cx="219.7" cy="124.6" r="12"/>
<circle cx="219.7" cy="127.4" r="12"/>
<circle cx="219.7" cy="132.6" r="12"/>
<circle cx="219.7" cy="133.7" r="12"/>
<circle cx="219.7" cy="135.5" r="12"/>
<circle cx="219.7" cy="138.5" r="12"/>
<circle cx="219.7" cy="140.6" r="12"/>
<circle cx="219.7" cy="142.4" r="12"/>
<circle cx="219.7" cy="145.4" r="12"/>
<circle cx="219.7" cy="151" r="12"/>
<circle cx="219.7" cy="151.6" r="12"/>
<circle cx="219.7" cy="156.9" r="12"/>
<circle cx="219.7" cy="156.9" r="12"/>
<circle cx="219.7" cy="159.7" r="12"/>
<circle cx="219.7" cy="116.8" r="12"/>
<circle cx="219.7" cy="127.7" r="12"/>
<circle cx="219.7" cy="96.9" r="12"/>
<circle cx="219.7" cy="160.7" r="12"/>
<circle cx="219.7" cy="153.1" r="12"/>
<circle cx="219.7" cy="106.6" r="12"/>
<circle cx="219.7" cy="101.3" r="12"/>
<circle cx="219.7" cy="99.3" r="12"/>
<circle cx="219.7" cy="149.7" r="12"/>
<circle cx="219.7" cy="120.2" r="12"/>
<circle cx="219.7" cy="127.4" r="12"/>
<circle cx="219.7" cy="122.9" r="12"/>
<circle cx="219.7" cy="126.3" r="12"/>
<circle cx="219.7" cy="108.9" r="12"/>
<circle cx="219.7" cy="128.9" r="12"/>
<circle cx="219.7" cy="102.6" r="12"/>
<circle cx="219.7" cy="127.2" r="12"/>
<circle cx="219.7" cy="134.1" r="12"/>
<circle cx="219.7" cy="136.9" r="12"/>
<circle cx="219.7" cy="124.3" r="12"/>
<circle cx="219.7" cy="57" r="12" fill-opacity="0.07"/>
<circle cx="219.7" cy="61" r="12" fill-opacity="0.07"/>
<circle cx="219.7" cy="187" r="12" fill-opacity="0.07"/>
<circle cx="244.3" cy="77.3" r="12"/>
<circle cx="244.3" cy="79.5" r="12"/>
<circle cx="244.3" cy="82" r="12"/>
<circle cx="244.3" cy="86.5" r="12"/>
<circle cx="244.3" cy="90.2" r="12"/>
<circle cx="244.3" cy="90.1" r="12"/>
<circle cx="244.3" cy="94.4" r="12"/>
<circle cx="244.3" cy="95.7" r="12"/>
<circle cx="244.3" cy="99.5" r="12"/>
<circle cx="244.3" cy="101.5" r="12"/>
<circle cx="244.3" cy="103.4" r="12"/>
<circle cx="244.3" cy="106.1" r="12"/>
<circle cx="244.3" cy="109" r="12"/>
<circle cx="244.3" cy="114.5" r="12"/>
<circle cx="244.3" cy="115.6" r="12"/>
<circle cx="244.3" cy="117.2" r="12"/>
<circle cx="244.3" cy="122.7" r="12"/>
<circle cx="244.3" cy="125.8" r="12"/>
<circle cx="244.3" cy="126.4" r="12"/>
<circle cx="244.3" cy="127.9" r="12"/>
<circle cx="244.3" cy="130.8" r="12"/>
<circle cx="244.3" cy="133.1" r="12"/>
<circle cx="244.3" cy="136.9" r="12"/>
<circle cx="244.3" cy="138.6" r="12"/>
<circle cx="244.3" cy="141.9" r="12"/>
<circle cx="244.3" cy="144.7" r="12"/>
<circle cx="244.3" cy="148.7" r="12"/>
<circle cx="244.3" cy="152.7" r="12"/>
<circle cx="244.3" cy="154.9" r="12"/>
<circle cx="244.3" cy="156.3" r="12"/>
<circle cx="244.3" cy="113" r="12"/>
<circle cx="244.3" cy="143.1" r="12"/>
<circle cx="244.3" cy="120.1" r="12"/>
<circle cx="244.3" cy="143.3" r="12"/>
<circle cx="244.3" cy="145.3" r="12"/>
<circle cx="244.3" cy="137.3" r="12"/>
<circle cx="244.3" cy="141" r="12"/>
<circle cx="244.3" cy="129.9" r="12"/>
<circle cx="244.3" cy="106.4" r="12"/>
<circle cx="244.3" cy="131.3" r="12"/>
<circle cx="244.3" cy="140" r="12"/>
<circle cx="244.3" cy="122.2" r="12"/>
<circle cx="244.3" cy="130" r="12"/>
<circle cx="244.3" cy="145.3" r="12"/>
<circle cx="244.3" cy="116" r="12"/>
<circle cx="244.3" cy="143.3" r="12"/>
<circle cx="244.3" cy="158" r="12"/>
<circle cx="244.3" cy="121.8" r="12"/>
<circle cx="244.3" cy="134.4" r="12"/>
<circle cx="244.3" cy="129.1" r="12"/>
<circle cx="244.3" cy="53" r="12" fill-opacity="0.07"/>
<circle cx="244.3" cy="60" r="12" fill-opacity="0.07"/>
<circle cx="244.3" cy="170" r="12" fill-opacity="0.07"/>
<circle cx="244.3" cy="186" r="12" fill-opacity="0.07"/>
<circle cx="269" cy="65.5" r="12"/>
<circle cx="269" cy="70.8" r="12"/>
<circle cx="269" cy="74.2" r="12"/>
<circle cx="269" cy="75.2" r="12"/>
<circle cx="269" cy="78.3" r="12"/>
<circle cx="269" cy="78.7" r="12"/>
<circle cx="269" cy="82.9" r="12"/>
<circle cx="269" cy="87.7" r="12"/>
<circle cx="269" cy="90" r="12"/>
<circle cx="269" cy="92.8" r="12"/>
<circle cx="269" cy="95.9" r="12"/>
<circle cx="269" cy="95.7" r="12"/>
<circle cx="269" cy="97.8" r="12"/>
<circle cx="269" cy="100.6" r="12"/>
<circle cx="269" cy="104.8" r="12"/>
<circle cx="269" cy="108.1" r="12"/>
<circle cx="269" cy="111.8" r="12"/>
<circle cx="269" cy="113.6" r="12"/>
<circle cx="269" cy="115.9" r="12"/>
<circle cx="269" cy="119.1" r="12"/>
<circle cx="269" cy="120.5" r="12"/>
<circle cx="269" cy="123.5" r="12"/>
<circle cx="269" cy="124.2" r="12"/>
<circle cx="269" cy="129.8" r="12"/>
<circle cx="269" cy="130.3" r="12"/>
<circle cx="269" cy="135.7" r="12"/>
<circle cx="269" cy="137.2" r="12"/>
<circle cx="269" cy="138.5" r="12"/>
<circle cx="269" cy="140.5" r="12"/>
<circle cx="269" cy="143.7" r="12"/>
<circle cx="269" cy="105" r="12"/>
<circle cx="269" cy="102.3" r="12"/>
<circle cx="269" cy="128" r="12"/>
<circle cx="269" cy="127.3" r="12"/>
<circle cx="269" cy="99.9" r="12"/>
<circle cx="269" cy="119.3" r="12"/>
<circle cx="269" cy="113.3" r="12"/>
<circle cx="269" cy="131" r="12"/>
<circle cx="269" cy="120.8" r="12"/>
<circle cx="269" cy="121.4" r="12"/>
<circle cx="269" cy="116.7" r="12"/>
<circle cx="269" cy="141.4" r="12"/>
<circle cx="269" cy="146" r="12"/>
<circle cx="269" cy="116.4" r="12"/>
<circle cx="269" cy="137.8" r="12"/>
<circle cx="269" cy="109.6" r="12"/>
<circle cx="269" cy="124.2" r="12"/>
<circle cx="269" cy="136.1" r="12"/>
<circle cx="269" cy="146" r="12"/>
<circle cx="269" cy="116.2" r="12"/>
<circle cx="269" cy="48.7" r="12" fill-opacity="0.07"/>
<circle cx="269" cy="163" r="12" fill-opacity="0.07"/>
<circle cx="269" cy="180.5" r="12" fill-opacity="0.07"/>
<circle cx="293.7" cy="62.3" r="12"/>
<circle cx="293.7" cy="63.2" r="12"/>
<circle cx="293.7" cy="67.2" r="12"/>
<circle cx="293.7" cy="69.9" r="12"/>
<circle cx="293.7" cy="71" r="12"/>
<circle cx="293.7" cy="72.4" r="12"/>
<circle cx="293.7" cy="76.1" r="12"/>
<circle cx="293.7" cy="79.2" r="12"/>
<circle cx="293.7" cy="78.5" r="12"/>
<circle cx="293.7" cy="79.7" r="12"/>
<circle cx="293.7" cy="83" r="12"/>
<circle cx="293.7" cy="85.4" r="12"/>
<circle cx="293.7" cy="88.5" r="12"/>
<circle cx="293.7" cy="88.7" r="12"/>
<circle cx="293.7" cy="93.1" r="12"/>
<circle cx="293.7" cy="95" r="12"/>
<circle cx="293.7" cy="96.1" r="12"/>
<circle cx="293.7" cy="96.9" r="12"/>
<circle cx="293.7" cy="102.1" r="12"/>
<circle cx="293.7" cy="101.5" r="12"/>
<circle cx="293.7" cy="105.6" r="12"/>
<circle cx="293.7" cy="105.3" r="12"/>
<circle cx="293.7" cy="107.3" r="12"/>
<circle cx="293.7" cy="111.6" r="12"/>
<circle cx="293.7" cy="111.8" r="12"/>
<circle cx="293.7" cy="116.5" r="12"/>
<circle cx="293.7" cy="116.7" r="12"/>
<circle cx="293.7" cy="117.5" r="12"/>
<circle cx="293.7" cy="119.7" r="12"/>
<circle cx="293.7" cy="122.6" r="12"/>
<circle cx="293.7" cy="125.6" r="12"/>
<circle cx="293.7" cy="120.3" r="12"/>
<circle cx="293.7" cy="110.3" r="12"/>
<circle cx="293.7" cy="105.2" r="12"/>
<circle cx="293.7" cy="118.8" r="12"/>
<circle cx="293.7" cy="120.5" r="12"/>
<circle cx="293.7" cy="111.5" r="12"/>
<circle cx="293.7" cy="117.5" r="12"/>
<circle cx="293.7" cy="114.4" r="12"/>
<circle cx="293.7" cy="89.2" r="12"/>
<circle cx="293.7" cy="126" r="12"/>
<circle cx="293.7" cy="126" r="12"/>
<circle cx="293.7" cy="97.5" r="12"/>
<circle cx="293.7" cy="126" r="12"/>
<circle cx="293.7" cy="112.3" r="12"/>
<circle cx="293.7" cy="108.5" r="12"/>
<circle cx="293.7" cy="120.7" r="12"/>
<circle cx="293.7" cy="126" r="12"/>
<circle cx="293.7" cy="103.7" r="12"/>
<circle cx="293.7" cy="126" r="12"/>
<circle cx="293.7" cy="116.9" r="12"/>
<circle cx="293.7" cy="102.9" r="12"/>
<circle cx="293.7" cy="43" r="12"/>
<circle cx="293.7" cy="46.2" r="12"/>
<circle cx="293.7" cy="49.3" r="12"/>
<circle cx="293.7" cy="52.5" r="12"/>
<circle cx="293.7" cy="55.7" r="12"/>
<circle cx="293.7" cy="58.8" r="12"/>
<circle cx="293.7" cy="153" r="12" fill-opacity="0.07"/>
<circle cx="318.3" cy="81.8" r="12"/>
<circle cx="318.3" cy="82.1" r="12"/>
<circle cx="318.3" cy="82.4" r="12"/>
<circle cx="318.3" cy="84.4" r="12"/>
<circle cx="318.3" cy="85.6" r="12"/>
<circle cx="318.3" cy="89" r="12"/>
<circle cx="318.3" cy="86.6" r="12"/>
<circle cx="318.3" cy="90.9" r="12"/>
<circle cx="318.3" cy="88.8" r="12"/>
<circle cx="318.3" cy="90.3" r="12"/>
<circle cx="318.3" cy="93.1" r="12"/>
<circle cx="318.3" cy="94" r="12"/>
<circle cx="318.3" cy="93.4" r="12"/>
<circle cx="318.3" cy="92.8" r="12"/>
<circle cx="318.3" cy="95.5" r="12"/>
<circle cx="318.3" cy="96" r="12"/>
<circle cx="318.3" cy="99.1" r="12"/>
<circle cx="318.3" cy="97.1" r="12"/>
<circle cx="318.3" cy="98.8" r="12"/>
<circle cx="318.3" cy="101.8" r="12"/>
<circle cx="318.3" cy="99.3" r="12"/>
<circle cx="318.3" cy="101.8" r="12"/>
<circle cx="318.3" cy="104.3" r="12"/>
<circle cx="318.3" cy="105.1" r="12"/>
<circle cx="318.3" cy="103.1" r="12"/>
<circle cx="318.3" cy="104" r="12"/>
<circle cx="318.3" cy="105" r="12"/>
<circle cx="318.3" cy="109.4" r="12"/>
<circle cx="318.3" cy="107.7" r="12"/>
<circle cx="318.3" cy="110.6" r="12"/>
<circle cx="318.3" cy="112.1" r="12"/>
<circle cx="318.3" cy="105.8" r="12"/>
<circle cx="318.3" cy="98.8" r="12"/>
<circle cx="318.3" cy="105.8" r="12"/>
<circle cx="318.3" cy="110" r="12"/>
<circle cx="318.3" cy="99.2" r="12"/>
<circle cx="318.3" cy="100.7" r="12"/>
<circle cx="318.3" cy="111" r="12"/>
<circle cx="318.3" cy="99.4" r="12"/>
<circle cx="318.3" cy="106.2" r="12"/>
<circle cx="318.3" cy="111" r="12"/>
<circle cx="318.3" cy="101.8" r="12"/>
<circle cx="318.3" cy="109.3" r="12"/>
<circle cx="318.3" cy="97" r="12"/>
<circle cx="318.3" cy="102.8" r="12"/>
<circle cx="318.3" cy="101" r="12"/>
<circle cx="318.3" cy="102.2" r="12"/>
<circle cx="318.3" cy="108.7" r="12"/>
<circle cx="318.3" cy="111" r="12"/>
<circle cx="318.3" cy="97.3" r="12"/>
<circle cx="318.3" cy="97.8" r="12"/>
<circle cx="318.3" cy="104.7" r="12"/>
<circle cx="318.3" cy="65" r="12"/>
<circle cx="318.3" cy="67.8" r="12"/>
<circle cx="318.3" cy="70.7" r="12"/>
<circle cx="318.3" cy="73.5" r="12"/>
<circle cx="318.3" cy="76.3" r="12"/>
<circle cx="318.3" cy="79.2" r="12"/>
<circle cx="318.3" cy="130" r="12"/>
<circle cx="318.3" cy="126.8" r="12"/>
<circle cx="318.3" cy="123.7" r="12"/>
<circle cx="318.3" cy="120.5" r="12"/>
<circle cx="318.3" cy="117.3" r="12"/>
<circle cx="318.3" cy="114.2" r="12"/>
<circle cx="318.3" cy="40" r="12" fill-opacity="0.07"/>
<circle cx="318.3" cy="51" r="12" fill-opacity="0.07"/>
<circle cx="343" cy="52.5" r="12"/>
<circle cx="343" cy="54.2" r="12"/>
<circle cx="343" cy="57.5" r="12"/>
<circle cx="343" cy="56" r="12"/>
<circle cx="343" cy="60" r="12"/>
<circle cx="343" cy="61.2" r="12"/>
<circle cx="343" cy="63" r="12"/>
<circle cx="343" cy="64.3" r="12"/>
<circle cx="343" cy="65.2" r="12"/>
<circle cx="343" cy="65.6" r="12"/>
<circle cx="343" cy="67" r="12"/>
<circle cx="343" cy="68.7" r="12"/>
<circle cx="343" cy="71.9" r="12"/>
<circle cx="343" cy="70.6" r="12"/>
<circle cx="343" cy="72.5" r="12"/>
<circle cx="343" cy="76.3" r="12"/>
<circle cx="343" cy="75.7" r="12"/>
<circle cx="343" cy="76.5" r="12"/>
<circle cx="343" cy="77.9" r="12"/>
<circle cx="343" cy="81.5" r="12"/>
<circle cx="343" cy="82.1" r="12"/>
<circle cx="343" cy="86.2" r="12"/>
<circle cx="343" cy="87.3" r="12"/>
<circle cx="343" cy="89.2" r="12"/>
<circle cx="343" cy="87.8" r="12"/>
<circle cx="343" cy="88.6" r="12"/>
<circle cx="343" cy="90.1" r="12"/>
<circle cx="343" cy="93.2" r="12"/>
<circle cx="343" cy="95.6" r="12"/>
<circle cx="343" cy="96" r="12"/>
<circle cx="343" cy="96.7" r="12"/>
<circle cx="343" cy="98.9" r="12"/>
<circle cx="343" cy="101.2" r="12"/>
<circle cx="343" cy="102.9" r="12"/>
<circle cx="343" cy="104.7" r="12"/>
<circle cx="343" cy="106.6" r="12"/>
<circle cx="343" cy="83.3" r="12"/>
<circle cx="343" cy="81.2" r="12"/>
<circle cx="343" cy="91.8" r="12"/>
<circle cx="343" cy="78.1" r="12"/>
<circle cx="343" cy="75.9" r="12"/>
<circle cx="343" cy="81.7" r="12"/>
<circle cx="343" cy="85.8" r="12"/>
<circle cx="343" cy="78.5" r="12"/>
<circle cx="343" cy="86.5" r="12"/>
<circle cx="343" cy="95.3" r="12"/>
<circle cx="343" cy="100.5" r="12"/>
<circle cx="343" cy="106" r="12"/>
<circle cx="343" cy="77.1" r="12"/>
<circle cx="343" cy="81.4" r="12"/>
<circle cx="343" cy="56.9" r="12"/>
<circle cx="343" cy="106" r="12"/>
<circle cx="343" cy="77.8" r="12"/>
<circle cx="343" cy="86" r="12"/>
<circle cx="343" cy="92.6" r="12"/>
<circle cx="343" cy="70.3" r="12"/>
<circle cx="343" cy="91.9" r="12"/>
<circle cx="343" cy="86.1" r="12"/>
<circle cx="343" cy="64.7" r="12"/>
<circle cx="343" cy="89.9" r="12"/>
<circle cx="343" cy="36.7" r="12"/>
<circle cx="343" cy="39.2" r="12"/>
<circle cx="343" cy="41.8" r="12"/>
<circle cx="343" cy="44.4" r="12"/>
<circle cx="343" cy="46.9" r="12"/>
<circle cx="343" cy="49.5" r="12"/>
<circle cx="343" cy="108.4" r="12"/>
<circle cx="343" cy="108" r="12"/>
<circle cx="343" cy="107.6" r="12"/>
<circle cx="343" cy="107.2" r="12"/>
<circle cx="343" cy="106.8" r="12"/>
<circle cx="343" cy="106.4" r="12"/>
<circle cx="343" cy="38" r="12" fill-opacity="0.07"/>
<circle cx="343" cy="44" r="12" fill-opacity="0.07"/>
<circle cx="367.7" cy="38.3" r="12"/>
<circle cx="367.7" cy="40" r="12"/>
<circle cx="367.7" cy="38" r="12"/>
<circle cx="367.7" cy="40.4" r="12"/>
<circle cx="367.7" cy="41.2" r="12"/>
<circle cx="367.7" cy="42.9" r="12"/>
<circle cx="367.7" cy="47.4" r="12"/>
<circle cx="367.7" cy="47.3" r="12"/>
<circle cx="367.7" cy="50.2" r="12"/>
<circle cx="367.7" cy="49.4" r="12"/>
<circle cx="367.7" cy="52.8" r="12"/>
<circle cx="367.7" cy="52.5" r="12"/>
<circle cx="367.7" cy="53.2" r="12"/>
<circle cx="367.7" cy="56.7" r="12"/>
<circle cx="367.7" cy="58.8" r="12"/>
<circle cx="367.7" cy="56.9" r="12"/>
<circle cx="367.7" cy="60.3" r="12"/>
<circle cx="367.7" cy="61.9" r="12"/>
<circle cx="367.7" cy="61.7" r="12"/>
<circle cx="367.7" cy="63.7" r="12"/>
<circle cx="367.7" cy="64.3" r="12"/>
<circle cx="367.7" cy="66" r="12"/>
<circle cx="367.7" cy="67.6" r="12"/>
<circle cx="367.7" cy="70.4" r="12"/>
<circle cx="367.7" cy="72.1" r="12"/>
<circle cx="367.7" cy="71.7" r="12"/>
<circle cx="367.7" cy="72.4" r="12"/>
<circle cx="367.7" cy="75.1" r="12"/>
<circle cx="367.7" cy="77.9" r="12"/>
<circle cx="367.7" cy="77.4" r="12"/>
<circle cx="367.7" cy="79.3" r="12"/>
<circle cx="367.7" cy="80.3" r="12"/>
<circle cx="367.7" cy="84.1" r="12"/>
<circle cx="367.7" cy="84.6" r="12"/>
<circle cx="367.7" cy="84.1" r="12"/>
<circle cx="367.7" cy="85.7" r="12"/>
<circle cx="367.7" cy="62.1" r="12"/>
<circle cx="367.7" cy="82.3" r="12"/>
<circle cx="367.7" cy="70.3" r="12"/>
<circle cx="367.7" cy="69.7" r="12"/>
<circle cx="367.7" cy="82.6" r="12"/>
<circle cx="367.7" cy="88" r="12"/>
<circle cx="367.7" cy="65.7" r="12"/>
<circle cx="367.7" cy="78.5" r="12"/>
<circle cx="367.7" cy="63.5" r="12"/>
<circle cx="367.7" cy="88" r="12"/>
<circle cx="367.7" cy="67.9" r="12"/>
<circle cx="367.7" cy="87.1" r="12"/>
<circle cx="367.7" cy="66.1" r="12"/>
<circle cx="367.7" cy="82.7" r="12"/>
<circle cx="367.7" cy="88" r="12"/>
<circle cx="367.7" cy="44.5" r="12"/>
<circle cx="367.7" cy="68.5" r="12"/>
<circle cx="367.7" cy="79.2" r="12"/>
<circle cx="367.7" cy="72.4" r="12"/>
<circle cx="367.7" cy="65.9" r="12"/>
<circle cx="367.7" cy="88" r="12"/>
<circle cx="367.7" cy="74.4" r="12"/>
<circle cx="367.7" cy="54.8" r="12"/>
<circle cx="367.7" cy="83.2" r="12"/>
<circle cx="367.7" cy="93" r="12"/>
<circle cx="367.7" cy="92.2" r="12"/>
<circle cx="367.7" cy="91.3" r="12"/>
<circle cx="367.7" cy="90.5" r="12"/>
<circle cx="367.7" cy="89.7" r="12"/>
<circle cx="367.7" cy="88.8" r="12"/>
<circle cx="392.3" cy="39.6" r="12"/>
<circle cx="392.3" cy="42.9" r="12"/>
<circle cx="392.3" cy="42.7" r="12"/>
<circle cx="392.3" cy="42.9" r="12"/>
<circle cx="392.3" cy="43.7" r="12"/>
<circle cx="392.3" cy="47.3" r="12"/>
<circle cx="392.3" cy="49" r="12"/>
<circle cx="392.3" cy="51.5" r="12"/>
<circle cx="392.3" cy="49.6" r="12"/>
<circle cx="392.3" cy="53.2" r="12"/>
<circle cx="392.3" cy="53.6" r="12"/>
<circle cx="392.3" cy="55.5" r="12"/>
<circle cx="392.3" cy="55.5" r="12"/>
<circle cx="392.3" cy="57.4" r="12"/>
<circle cx="392.3" cy="59.8" r="12"/>
<circle cx="392.3" cy="62.8" r="12"/>
<circle cx="392.3" cy="61" r="12"/>
<circle cx="392.3" cy="63.9" r="12"/>
<circle cx="392.3" cy="66.6" r="12"/>
<circle cx="392.3" cy="68.6" r="12"/>
<circle cx="392.3" cy="67" r="12"/>
<circle cx="392.3" cy="68.1" r="12"/>
<circle cx="392.3" cy="72.8" r="12"/>
<circle cx="392.3" cy="74.3" r="12"/>
<circle cx="392.3" cy="73.7" r="12"/>
<circle cx="392.3" cy="73.4" r="12"/>
<circle cx="392.3" cy="78.3" r="12"/>
<circle cx="392.3" cy="77.6" r="12"/>
<circle cx="392.3" cy="81.1" r="12"/>
<circle cx="392.3" cy="81.3" r="12"/>
<circle cx="392.3" cy="83.6" r="12"/>
<circle cx="392.3" cy="82.3" r="12"/>
<circle cx="392.3" cy="86.2" r="12"/>
<circle cx="392.3" cy="85.4" r="12"/>
<circle cx="392.3" cy="87.5" r="12"/>
<circle cx="392.3" cy="90.7" r="12"/>
<circle cx="392.3" cy="69.2" r="12"/>
<circle cx="392.3" cy="59.6" r="12"/>
<circle cx="392.3" cy="68" r="12"/>
<circle cx="392.3" cy="76.8" r="12"/>
<circle cx="392.3" cy="54.9" r="12"/>
<circle cx="392.3" cy="64.6" r="12"/>
<circle cx="392.3" cy="71.8" r="12"/>
<circle cx="392.3" cy="71.7" r="12"/>
<circle cx="392.3" cy="62.1" r="12"/>
<circle cx="392.3" cy="42.3" r="12"/>
<circle cx="392.3" cy="79.7" r="12"/>
<circle cx="392.3" cy="69.5" r="12"/>
<circle cx="392.3" cy="65.9" r="12"/>
<circle cx="392.3" cy="62.7" r="12"/>
<circle cx="392.3" cy="68.7" r="12"/>
<circle cx="392.3" cy="61.1" r="12"/>
<circle cx="392.3" cy="54.4" r="12"/>
<circle cx="392.3" cy="57.5" r="12"/>
<circle cx="392.3" cy="59.1" r="12"/>
<circle cx="392.3" cy="59" r="12"/>
<circle cx="392.3" cy="52.9" r="12"/>
<circle cx="392.3" cy="72.9" r="12"/>
<circle cx="392.3" cy="51.2" r="12"/>
<circle cx="392.3" cy="73.2" r="12"/>
<circle cx="392.3" cy="94" r="12"/>
<circle cx="392.3" cy="93.3" r="12"/>
<circle cx="392.3" cy="92.7" r="12"/>
<circle cx="392.3" cy="92" r="12"/>
<circle cx="392.3" cy="91.3" r="12"/>
<circle cx="392.3" cy="90.7" r="12"/>
<circle cx="417" cy="33.6" r="12"/>
<circle cx="417" cy="34.8" r="12"/>
<circle cx="417" cy="34.4" r="12"/>
<circle cx="417" cy="38" r="12"/>
<circle cx="417" cy="38.8" r="12"/>
<circle cx="417" cy="39" r="12"/>
<circle cx="417" cy="42.3" r="12"/>
<circle cx="417" cy="43.7" r="12"/>
<circle cx="417" cy="43.6" r="12"/>
<circle cx="417" cy="43.7" r="12"/>
<circle cx="417" cy="46.2" r="12"/>
<circle cx="417" cy="45.9" r="12"/>
<circle cx="417" cy="47.3" r="12"/>
<circle cx="417" cy="49.7" r="12"/>
<circle cx="417" cy="49.6" r="12"/>
<circle cx="417" cy="52.3" r="12"/>
<circle cx="417" cy="53.8" r="12"/>
<circle cx="417" cy="53.1" r="12"/>
<circle cx="417" cy="56.8" r="12"/>
<circle cx="417" cy="55.8" r="12"/>
<circle cx="417" cy="59.6" r="12"/>
<circle cx="417" cy="61.1" r="12"/>
<circle cx="417" cy="61.2" r="12"/>
<circle cx="417" cy="60.7" r="12"/>
<circle cx="417" cy="63.7" r="12"/>
<circle cx="417" cy="64.4" r="12"/>
<circle cx="417" cy="68" r="12"/>
<circle cx="417" cy="66" r="12"/>
<circle cx="417" cy="70.1" r="12"/>
<circle cx="417" cy="71.9" r="12"/>
<circle cx="417" cy="72.1" r="12"/>
<circle cx="417" cy="73.7" r="12"/>
<circle cx="417" cy="72.4" r="12"/>
<circle cx="417" cy="76.8" r="12"/>
<circle cx="417" cy="76.1" r="12"/>
<circle cx="417" cy="79.2" r="12"/>
<circle cx="417" cy="65.4" r="12"/>
<circle cx="417" cy="57.3" r="12"/>
<circle cx="417" cy="65.7" r="12"/>
<circle cx="417" cy="38.2" r="12"/>
<circle cx="417" cy="68.7" r="12"/>
<circle cx="417" cy="64" r="12"/>
<circle cx="417" cy="60.5" r="12"/>
<circle cx="417" cy="54.5" r="12"/>
<circle cx="417" cy="66.6" r="12"/>
<circle cx="417" cy="55.5" r="12"/>
<circle cx="417" cy="62.5" r="12"/>
<circle cx="417" cy="55.3" r="12"/>
<circle cx="417" cy="38.2" r="12"/>
<circle cx="417" cy="60" r="12"/>
<circle cx="417" cy="62.3" r="12"/>
<circle cx="417" cy="67.7" r="12"/>
<circle cx="417" cy="51.7" r="12"/>
<circle cx="417" cy="60" r="12"/>
<circle cx="417" cy="66.4" r="12"/>
<circle cx="417" cy="61.7" r="12"/>
<circle cx="417" cy="72.5" r="12"/>
<circle cx="417" cy="78" r="12"/>
<circle cx="417" cy="51.3" r="12"/>
<circle cx="417" cy="41.4" r="12"/>
<circle cx="417" cy="33" r="12"/>
<circle cx="417" cy="33" r="12"/>
<circle cx="417" cy="33.1" r="12"/>
<circle cx="417" cy="33.1" r="12"/>
<circle cx="417" cy="33.1" r="12"/>
<circle cx="417" cy="33.2" r="12"/>
<circle cx="417" cy="80" r="12"/>
<circle cx="417" cy="79.7" r="12"/>
<circle cx="417" cy="79.3" r="12"/>
<circle cx="417" cy="79" r="12"/>
<circle cx="417" cy="78.7" r="12"/>
<circle cx="417" cy="78.3" r="12"/>
<circle cx="417" cy="84" r="12" fill-opacity="0.07"/>
<circle cx="417" cy="96" r="12" fill-opacity="0.07"/>
<circle cx="441.7" cy="31.5" r="12"/>
<circle cx="441.7" cy="35.2" r="12"/>
<circle cx="441.7" cy="33.7" r="12"/>
<circle cx="441.7" cy="36.6" r="12"/>
<circle cx="441.7" cy="38.2" r="12"/>
<circle cx="441.7" cy="38.3" r="12"/>
<circle cx="441.7" cy="41.6" r="12"/>
<circle cx="441.7" cy="41.5" r="12"/>
<circle cx="441.7" cy="42.8" r="12"/>
<circle cx="441.7" cy="45.2" r="12"/>
<circle cx="441.7" cy="43.3" r="12"/>
<circle cx="441.7" cy="48.1" r="12"/>
<circle cx="441.7" cy="47.9" r="12"/>
<circle cx="441.7" cy="48.1" r="12"/>
<circle cx="441.7" cy="51" r="12"/>
<circle cx="441.7" cy="50" r="12"/>
<circle cx="441.7" cy="54.1" r="12"/>
<circle cx="441.7" cy="53.7" r="12"/>
<circle cx="441.7" cy="54" r="12"/>
<circle cx="441.7" cy="56.9" r="12"/>
<circle cx="441.7" cy="56.8" r="12"/>
<circle cx="441.7" cy="56.9" r="12"/>
<circle cx="441.7" cy="60.4" r="12"/>
<circle cx="441.7" cy="58.9" r="12"/>
<circle cx="441.7" cy="63.2" r="12"/>
<circle cx="441.7" cy="62.1" r="12"/>
<circle cx="441.7" cy="64.9" r="12"/>
<circle cx="441.7" cy="67.4" r="12"/>
<circle cx="441.7" cy="67.1" r="12"/>
<circle cx="441.7" cy="68.6" r="12"/>
<circle cx="441.7" cy="68.4" r="12"/>
<circle cx="441.7" cy="68.4" r="12"/>
<circle cx="441.7" cy="69.7" r="12"/>
<circle cx="441.7" cy="71.4" r="12"/>
<circle cx="441.7" cy="74.4" r="12"/>
<circle cx="441.7" cy="74.9" r="12"/>
<circle cx="441.7" cy="33.7" r="12"/>
<circle cx="441.7" cy="52.4" r="12"/>
<circle cx="441.7" cy="58.7" r="12"/>
<circle cx="441.7" cy="59.1" r="12"/>
<circle cx="441.7" cy="52.8" r="12"/>
<circle cx="441.7" cy="52.3" r="12"/>
<circle cx="441.7" cy="63" r="12"/>
<circle cx="441.7" cy="54.1" r="12"/>
<circle cx="441.7" cy="61.1" r="12"/>
<circle cx="441.7" cy="59.6" r="12"/>
<circle cx="441.7" cy="56" r="12"/>
<circle cx="441.7" cy="66.5" r="12"/>
<circle cx="441.7" cy="48.5" r="12"/>
<circle cx="441.7" cy="50.6" r="12"/>
<circle cx="441.7" cy="46.2" r="12"/>
<circle cx="441.7" cy="46.4" r="12"/>
<circle cx="441.7" cy="68.9" r="12"/>
<circle cx="441.7" cy="70.9" r="12"/>
<circle cx="441.7" cy="54.2" r="12"/>
<circle cx="441.7" cy="59.5" r="12"/>
<circle cx="441.7" cy="65.3" r="12"/>
<circle cx="441.7" cy="61.7" r="12"/>
<circle cx="441.7" cy="65.6" r="12"/>
<circle cx="441.7" cy="41.9" r="12"/>
<circle cx="441.7" cy="78" r="12"/>
<circle cx="441.7" cy="77.6" r="12"/>
<circle cx="441.7" cy="77.3" r="12"/>
<circle cx="441.7" cy="76.9" r="12"/>
<circle cx="441.7" cy="76.5" r="12"/>
<circle cx="441.7" cy="76.2" r="12"/>
<circle cx="441.7" cy="91" r="12" fill-opacity="0.07"/>
</g>
</g>
<line x1="472" y1="54" x2="481" y2="54" stroke="#e2e2e2" stroke-width="2"/>
<polyline points="-2.3,55.5 22.3,65.5 47,79.2 71.7,81.5 96.3,76.5 121,71.2 145.7,65 170.3,64.7 195,79 219.7,128.5 244.3,131.8 269,122.9 293.7,112.8 318.3,101.5 343,86.4 367.7,73.5 392.3,65.8 417,60.3 441.7,54" fill="none" stroke="#169bff" stroke-width="8.6" stroke-linejoin="round"/>
<text y="35.8" style='font-family:"DejaVu Sans","Liberation Sans",sans-serif;font-weight:bold;fill:#149bff;font-size:30.4px;stroke:#149bff;stroke-width:0.5'><tspan x="486.57" textLength="21.95" lengthAdjust="spacingAndGlyphs">9</tspan><tspan x="505.92" textLength="23.39" lengthAdjust="spacingAndGlyphs">6</tspan><tspan x="526.22" textLength="12.97" lengthAdjust="spacingAndGlyphs">.</tspan><tspan x="536.58" textLength="22.33" lengthAdjust="spacingAndGlyphs">1</tspan><tspan x="558.46" textLength="38.45" lengthAdjust="spacingAndGlyphs">%</tspan></text>
<text x="486.3" y="67" style='font-family:"DejaVu Sans","Liberation Sans",sans-serif;font-stretch:condensed;fill:#1a1a1a;stroke:#1a1a1a;stroke-width:0.35;font-size:25.5px' textLength="181.5" lengthAdjust="spacingAndGlyphs">Employment rate</text>
<text x="486.3" y="96" style='font-family:"DejaVu Sans","Liberation Sans",sans-serif;font-stretch:condensed;fill:#1a1a1a;stroke:#1a1a1a;stroke-width:0.35;font-size:25.5px' textLength="302.3" lengthAdjust="spacingAndGlyphs">(percent of total labor force)</text>
<text x="85.5" y="258.7" text-anchor="end" style='font-family:"DejaVu Sans","Liberation Sans",sans-serif;font-stretch:condensed;fill:#1a1a1a;stroke:#1a1a1a;stroke-width:0.35;font-size:24px'>60</text>
<text x="85.5" y="376.9" text-anchor="end" style='font-family:"DejaVu Sans","Liberation Sans",sans-serif;font-stretch:condensed;fill:#1a1a1a;stroke:#1a1a1a;stroke-width:0.35;font-size:24px'>40</text>
<text x="85.5" y="494.9" text-anchor="end" style='font-family:"DejaVu Sans","Liberation Sans",sans-serif;font-stretch:condensed;fill:#1a1a1a;stroke:#1a1a1a;stroke-width:0.35;font-size:24px'>20</text>
<text transform="translate(29.9,412) rotate(-90)" x="0" y="0" style='font-family:"DejaVu Sans","Liberation Sans",sans-serif;font-stretch:condensed;fill:#1a1a1a;stroke:#1a1a1a;stroke-width:0.35;font-size:26px' textLength="203.5" lengthAdjust="spacingAndGlyphs">Temperature (°F)</text>
</svg>
</body></html>
